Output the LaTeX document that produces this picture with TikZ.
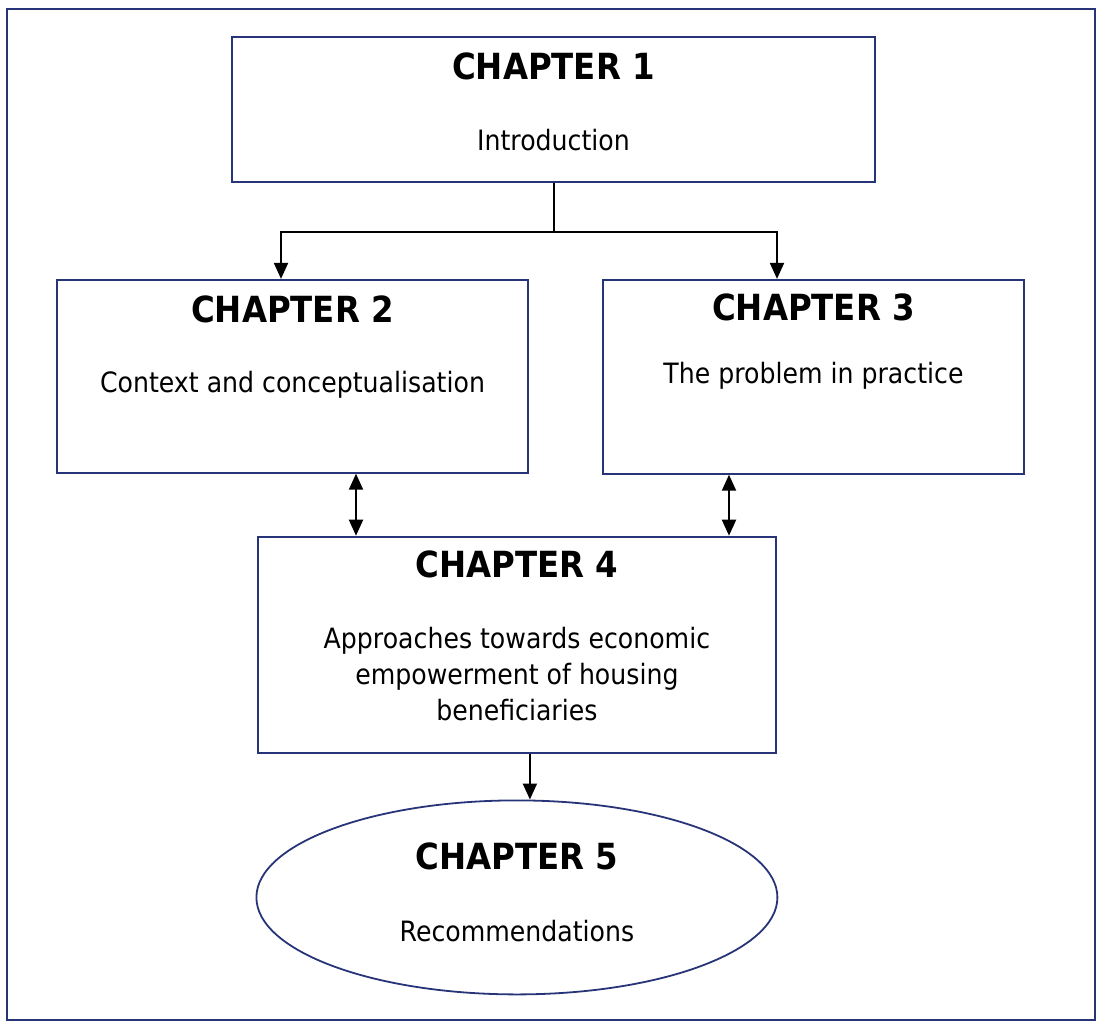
\documentclass[tikz,border=0pt]{standalone}
\usepackage{fontspec}
\setmainfont{DejaVu Sans}[FakeStretch=0.9]
\usetikzlibrary{arrows.meta,positioning,shapes.geometric}
\definecolor{framenavy}{RGB}{40,52,120}
\tikzset{
    >={Triangle[length=8pt,width=7pt]},
    chapter box/.style={rectangle,draw=framenavy,line width=0.9pt,inner sep=0pt},
    chapter oval/.style={ellipse,draw=framenavy,line width=0.9pt,inner sep=0pt},
    heading/.style={anchor=base,font=\fontsize{18}{21}\selectfont\bfseries},
    body text/.style={anchor=base,align=center,font=\fontsize{14}{18}\selectfont},
    link/.style={line width=1pt}
}
\begin{document}
\begin{tikzpicture}[x=0.5pt,y=-0.5pt]
    \useasboundingbox (0,0) rectangle (1097,1032);
    \draw[framenavy, line width=0.8pt] (7,9) rectangle (1095,1020);
    % boxes
    \node[chapter box, minimum width=321.5pt, minimum height=72.5pt] (ch1) at (553.5,109.5) {};
    \node[chapter box, minimum width=235.5pt, minimum height=96.5pt] (ch2) [below = 48pt of ch1, xshift=-130.5pt] {};
    \node[chapter box, minimum width=210.5pt, minimum height=97pt] (ch3) [below = 48pt of ch1, xshift=130pt] {};
    \node[chapter box, minimum width=259pt, minimum height=108pt] (ch4) [below = 31pt of ch2.south east, xshift=-6pt] {};
    \node[chapter oval, minimum width=260.5pt, minimum height=97pt] (ch5) [below = 23pt of ch4] {};
    % texts
    \node[heading] (ch1 title) at ([yshift=-21.5pt]ch1.north) {CHAPTER 1};
    \node[body text] (ch1 text) at ([yshift=-57pt]ch1.north) {Introduction};
    \node[heading] (ch2 title) at ([yshift=-22pt]ch2.north) {CHAPTER 2};
    \node[body text] (ch2 text) at ([yshift=-57pt]ch2.north) {Context and conceptualisation};
    \node[heading] (ch3 title) at ([yshift=-21pt]ch3.north) {CHAPTER 3};
    \node[body text] (ch3 text) at ([yshift=-52.5pt]ch3.north) {The problem in practice};
    \node[heading] (ch4 title) at ([yshift=-21pt]ch4.north) {CHAPTER 4};
    \node[body text] (ch4 text) at ([yshift=-92.5pt]ch4.north) {Approaches towards economic\\empowerment of housing\\beneficiaries};
    \node[heading] (ch5 title) at ([yshift=-35pt]ch5.north) {CHAPTER 5};
    \node[body text] (ch5 text) at ([yshift=-71pt]ch5.north) {Recommendations};
    % connectors
    \draw[link] (ch1.south) -- ++(0,-24.5pt) coordinate (fork);
    \draw[link,->] (fork) -| ([xshift=-5.75pt]ch2.north);
    \draw[link,->] (fork) -| ([xshift=-18.25pt]ch3.north);
    \draw[link,<->] ([xshift=31.75pt]ch2.south) -- ([xshift=31.75pt]ch2.south |- ch4.north);
    \draw[link,<->] ([xshift=-42.25pt]ch3.south) -- ([xshift=-42.25pt]ch3.south |- ch4.north);
    \draw[link,->] ([xshift=6.5pt]ch4.south) -- ([xshift=6.5pt]ch4.south |- ch5.north);
\end{tikzpicture}
\end{document}
